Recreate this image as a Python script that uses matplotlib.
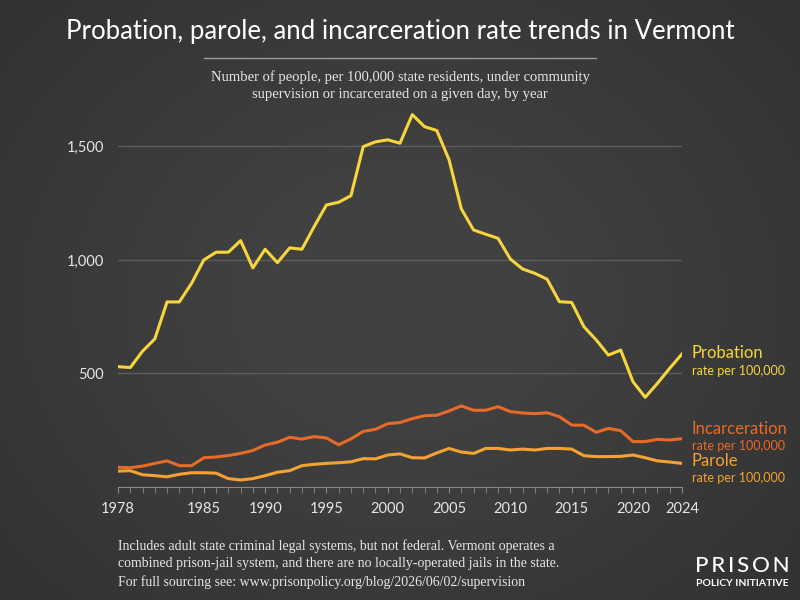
import numpy as np
import matplotlib
matplotlib.use("Agg")
import matplotlib.pyplot as plt

years = list(range(1978, 2025))

probation = [530, 526, 598, 652, 815, 815, 897, 1000, 1034, 1034, 1085, 965, 1047, 988,
             1053, 1047, 1147, 1242, 1254, 1283, 1499, 1520, 1529, 1514, 1640, 1587, 1570,
             1441, 1225, 1132, 1113, 1095, 1004, 960, 941, 915, 816, 813, 706, 648, 581,
             603, 464, 395, 457, 523, 586]

incarceration = [87, 85, 92, 104, 115, 94, 94, 129, 132, 139, 148, 161, 185, 197, 219, 211,
                 222, 216, 186, 212, 245, 254, 279, 284, 301, 314, 316, 335, 357, 338, 338,
                 354, 332, 326, 323, 327, 310, 273, 272, 241, 258, 248, 200, 200, 210, 207, 213]

parole = [70, 72, 54, 50, 45, 56, 63, 63, 61, 37, 31, 37, 50, 65, 72, 94, 100, 104, 107, 111,
          125, 124, 141, 146, 129, 128, 150, 170, 154, 148, 170, 170, 163, 167, 163, 170, 170,
          167, 138, 134, 134, 135, 141, 129, 115, 110, 104]

xtick_years = [1978, 1985, 1990, 1995, 2000, 2005, 2010, 2015, 2020, 2024]
ytick_vals = [500, 1000, 1500]
ytick_labels = ["500", "1,000", "1,500"]

c_prob = "#f6d53e"
c_inc = "#e66a28"
c_par = "#f3a233"
sans = ["Lato", "DejaVu Sans"]
serif = ["Liberation Serif", "DejaVu Serif"]

fig = plt.figure(figsize=(8, 6), dpi=100)

# background with a soft vignette
bg = fig.add_axes([0, 0, 1, 1])
yy, xx = np.mgrid[-1:1:300j, -1:1:400j]
r = np.sqrt(xx ** 2 + (yy * 0.9) ** 2)
shade = 0.255 - 0.06 * np.clip(r - 0.35, 0, None)
bg.imshow(np.dstack([shade, shade, shade]), extent=[0, 1, 0, 1], aspect="auto")
bg.axis("off")

ax = fig.add_axes([0.1475, 0.1883, 0.705, 0.6434])
ax.set_facecolor("none")
ax.plot(years, parole, color=c_par, lw=2.2, solid_joinstyle="round")
ax.plot(years, incarceration, color=c_inc, lw=2.2, solid_joinstyle="round")
ax.plot(years, probation, color=c_prob, lw=2.2, solid_joinstyle="round")

ax.set_xlim(1978, 2024)
ax.set_ylim(0, 1700)
ax.set_yticks(ytick_vals)
ax.set_yticklabels(ytick_labels)
ax.yaxis.grid(True, color="#5c5c5c", lw=1)
ax.set_axisbelow(True)
ax.tick_params(axis="y", length=0, pad=10, labelcolor="#e6e6e6", labelsize=10.5)
ax.set_xticks(xtick_years)
ax.set_xticks(years, minor=True)
ax.tick_params(axis="x", which="both", direction="out", length=4, color="#8a8a8a",
               labelcolor="#e6e6e6", labelsize=10.5, pad=7)
for lab in ax.get_xticklabels() + ax.get_yticklabels():
    lab.set_family(sans)
for s in ["top", "right", "left"]:
    ax.spines[s].set_visible(False)
ax.spines["bottom"].set_color("#8a8a8a")

# series labels on the right
lx = 2024.8
ax.text(lx, 590, "Probation", color=c_prob, fontsize=12, family=sans, va="center")
ax.text(lx, 513, "rate per 100,000", color=c_prob, fontsize=9, family=sans, va="center")
ax.text(lx, 255, "Incarceration", color=c_inc, fontsize=12, family=sans, va="center")
ax.text(lx, 182, "rate per 100,000", color=c_inc, fontsize=9, family=sans, va="center")
ax.text(lx, 113, "Parole", color=c_par, fontsize=12, family=sans, va="center")
ax.text(lx, 40, "rate per 100,000", color=c_par, fontsize=9, family=sans, va="center")

fig.text(0.5, 0.947, "Probation, parole, and incarceration rate trends in Vermont",
         ha="center", va="center", color="white", fontsize=18.5, family=sans)
fig.add_artist(plt.Line2D([0.255, 0.745], [0.903, 0.903], color="#9a9a9a", lw=1))
fig.text(0.5, 0.857, "Number of people, per 100,000 state residents, under community\n"
         "supervision or incarcerated on a given day, by year",
         ha="center", va="center", color="#e6e6e6", fontsize=10.5, family=serif,
         linespacing=1.35)

fig.text(0.1475, 0.06, "Includes adult state criminal legal systems, but not federal. Vermont operates a\n"
         "combined prison-jail system, and there are no locally-operated jails in the state.\n"
         "For full sourcing see: www.prisonpolicy.org/blog/2026/06/02/supervision",
         ha="left", va="center", color="#e6e6e6", fontsize=10, family=serif, linespacing=1.45)

fig.text(0.928, 0.056, "P\u2009R\u2009I\u2009S\u2009O\u2009N", ha="center", va="center",
         color="white", fontsize=16, family=sans, fontweight="medium")
fig.text(0.928, 0.028, "POLICY INITIATIVE", ha="center", va="center", color="white",
         fontsize=7.5, family=sans, fontweight="bold")

fig.savefig("out.png", dpi=100)
